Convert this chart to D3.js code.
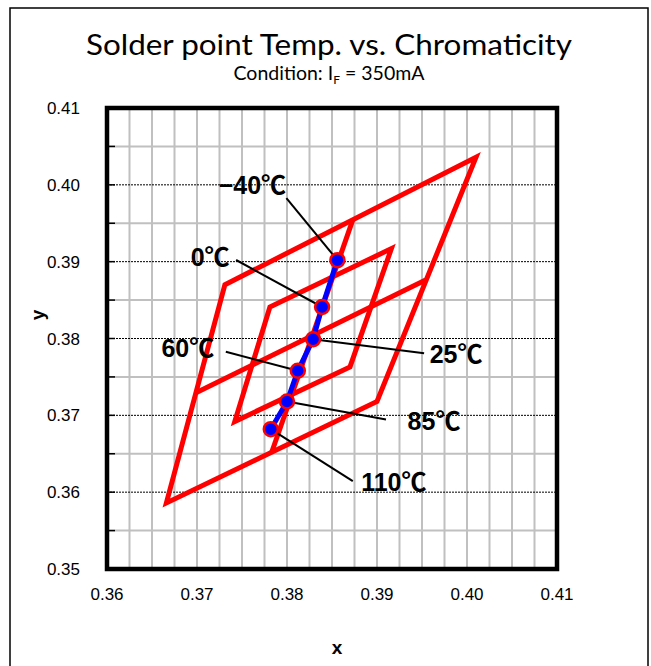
<!DOCTYPE html>
<html lang="en">
<head>
<meta charset="UTF-8">
<title>Solder point Temp. vs. Chromaticity</title>
<script src="https://d3js.org/d3.v7.min.js"></script>
<style>
    body { margin: 0; padding: 0; background: white; }
    svg { display: block; }
    .tick-label { font-family: 'Liberation Sans', Arial, sans-serif; font-size: 17px; fill: #000; }
    .temp-label { font-family: 'Liberation Sans', 'Noto Sans CJK JP', sans-serif; font-size: 25px; font-weight: bold; fill: #000; }
</style>
</head>
<body>
<div id="chart"></div>
<script>
// axis ticks
const xTicks = [0.36, 0.37, 0.38, 0.39, 0.40, 0.41];
const yTicks = [0.35, 0.36, 0.37, 0.38, 0.39, 0.40, 0.41];

// chromaticity bin outlines (x, y)
const binOuter = [[0.3666, 0.3586], [0.3731, 0.3870], [0.4010, 0.4036], [0.3900, 0.3718]];
const binSplitV = [[0.3783, 0.3652], [0.3873, 0.3954]];
const binSplitH = [[0.3700, 0.3730], [0.3954, 0.3876]];
const binInner = [[0.3742, 0.3692], [0.3781, 0.3841], [0.3916, 0.3917], [0.3870, 0.3763]];

// measured points per solder point temperature
const temps = ["\u221240\u2103", "0\u2103", "25\u2103", "60\u2103", "85\u2103", "110\u2103"];
const cieX = [0.3856, 0.3839, 0.3829, 0.3812, 0.3800, 0.3782];
const cieY = [0.3902, 0.3841, 0.3799, 0.3758, 0.3718, 0.3682];

const W = 651, H = 666;
const plot = { left: 107, top: 108, width: 450, height: 461 };

const svg = d3.select("#chart").append("svg")
    .attr("width", W)
    .attr("height", H);

// outer frame
svg.append("rect")
    .attr("x", 10).attr("y", 8)
    .attr("width", 638).attr("height", 680)
    .attr("fill", "none")
    .attr("stroke", "#000")
    .attr("stroke-width", 1.5);

// titles
svg.append("text")
    .attr("x", 329).attr("y", 55)
    .attr("text-anchor", "middle")
    .attr("textLength", 486)
    .attr("lengthAdjust", "spacingAndGlyphs")
    .style("font-family", "Lato, 'Open Sans', sans-serif")
    .style("font-size", "29px")
    .text("Solder point Temp. vs. Chromaticity");

const sub = svg.append("text")
    .attr("x", 329).attr("y", 80)
    .attr("text-anchor", "middle")
    .style("font-family", "Lato, 'Open Sans', sans-serif")
    .style("font-size", "19.5px");
sub.append("tspan").text("Condition: I");
sub.append("tspan").attr("dy", 4).style("font-size", "12px").text("F");
sub.append("tspan").attr("dy", -4).text(" = 350mA");

const x = d3.scaleLinear().domain([0.36, 0.41]).range([plot.left, plot.left + plot.width]);
const y = d3.scaleLinear().domain([0.35, 0.41]).range([plot.top + plot.height, plot.top]);

const g = svg.append("g");

// gray grid: x every 0.0025, y at half steps
const vGrid = d3.range(1, 20).map(i => 0.36 + i * 0.0025);
g.selectAll(".vgrid").data(vGrid).join("line")
    .attr("x1", d => x(d)).attr("x2", d => x(d))
    .attr("y1", plot.top).attr("y2", plot.top + plot.height)
    .attr("stroke", "#c0c0c0").attr("stroke-width", 2);

const hMinor = yTicks.slice(0, -1).map(d => d + 0.005);
g.selectAll(".hgrid").data(hMinor).join("line")
    .attr("x1", plot.left).attr("x2", plot.left + plot.width)
    .attr("y1", d => y(d)).attr("y2", d => y(d))
    .attr("stroke", "#c0c0c0").attr("stroke-width", 2);

// dotted major lines
g.selectAll(".hmajor").data(yTicks.slice(1, -1)).join("line")
    .attr("x1", plot.left).attr("x2", plot.left + plot.width)
    .attr("y1", d => y(d)).attr("y2", d => y(d))
    .attr("stroke", "#000").attr("stroke-width", 1)
    .attr("stroke-dasharray", "2,1");

// inner tick marks on the y axis
g.selectAll(".ytick").data(yTicks.concat(hMinor)).join("line")
    .attr("x1", plot.left).attr("x2", plot.left + 8)
    .attr("y1", d => y(d)).attr("y2", d => y(d))
    .attr("stroke", "#000").attr("stroke-width", 1.5);

// tick labels
svg.selectAll(".ylab").data(yTicks).join("text")
    .attr("class", "tick-label")
    .attr("x", 80).attr("y", d => y(d) + 6)
    .attr("text-anchor", "end")
    .text(d => d3.format(".2f")(d));

svg.selectAll(".xlab").data(xTicks).join("text")
    .attr("class", "tick-label")
    .attr("x", d => x(d)).attr("y", 600)
    .attr("text-anchor", "middle")
    .text(d => d3.format(".2f")(d));

// axis titles
svg.append("text")
    .attr("transform", "translate(44,315) rotate(-90)")
    .attr("text-anchor", "middle")
    .style("font-family", "'Liberation Sans', Arial, sans-serif")
    .style("font-size", "19px").style("font-weight", "bold")
    .text("y");

svg.append("text")
    .attr("x", 337).attr("y", 654)
    .attr("text-anchor", "middle")
    .style("font-family", "'Liberation Sans', Arial, sans-serif")
    .style("font-size", "19px").style("font-weight", "bold")
    .text("x");

// bins
const line = d3.line().x(d => x(d[0])).y(d => y(d[1]));
const red = "#ff0000";
[binOuter, binInner].forEach(poly => {
    g.append("path")
        .attr("d", line(poly) + "Z")
        .attr("fill", "none").attr("stroke", red)
        .attr("stroke-width", 5).attr("stroke-linejoin", "miter");
});
[binSplitV, binSplitH].forEach(seg => {
    g.append("path")
        .attr("d", line(seg))
        .attr("fill", "none").attr("stroke", red)
        .attr("stroke-width", 5);
});

const pts = temps.map((t, i) => ({ label: t, x: cieX[i], y: cieY[i] }));

// label placement (px offsets from the point): leader end and text centre
const labelPos = [
    { lx: -51, ly: -62, tx: -85, ty: -75 },
    { lx: -86, ly: -47, tx: -112, ty: -50 },
    { lx: 111, ly: 14, tx: 143, ty: 15 },
    { lx: -72, ly: -19, tx: -110, ty: -23 },
    { lx: 99, ly: 18, tx: 147, ty: 19 },
    { lx: 82, ly: 52, tx: 123, ty: 53 }
];

g.selectAll(".leader").data(pts).join("line")
    .attr("x1", d => x(d.x)).attr("y1", d => y(d.y))
    .attr("x2", (d, i) => x(d.x) + labelPos[i].lx)
    .attr("y2", (d, i) => y(d.y) + labelPos[i].ly)
    .attr("stroke", "#000").attr("stroke-width", 2);

g.append("path")
    .attr("d", line(pts.map(d => [d.x, d.y])))
    .attr("fill", "none").attr("stroke", "#0000ff").attr("stroke-width", 5);

g.selectAll(".pt").data(pts).join("circle")
    .attr("cx", d => x(d.x)).attr("cy", d => y(d.y))
    .attr("r", 7)
    .attr("fill", "#0000ff").attr("stroke", red).attr("stroke-width", 2.5);

g.selectAll(".tlab").data(pts).join("text")
    .attr("class", "temp-label")
    .attr("x", (d, i) => x(d.x) + labelPos[i].tx)
    .attr("y", (d, i) => y(d.y) + labelPos[i].ty)
    .attr("text-anchor", "middle")
    .attr("dominant-baseline", "central")
    .text(d => d.label);

// plot border
svg.append("rect")
    .attr("x", plot.left).attr("y", plot.top)
    .attr("width", plot.width).attr("height", plot.height)
    .attr("fill", "none").attr("stroke", "#000").attr("stroke-width", 4.5);
</script>
</body>
</html>
